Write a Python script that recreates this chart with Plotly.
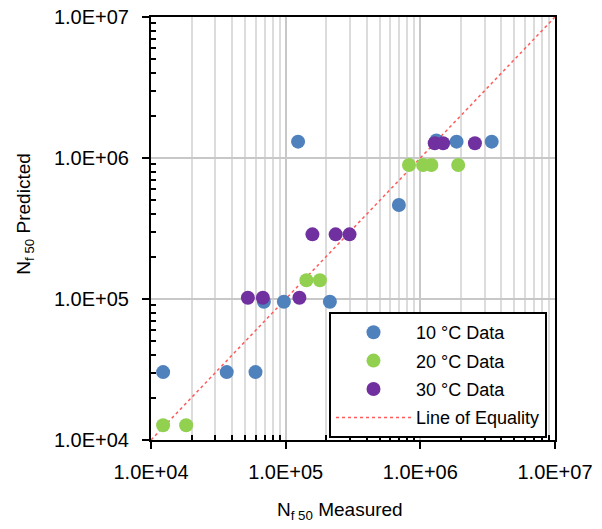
import plotly.graph_objects as go

# ---- data ----
x10 = [12300, 36500, 59700, 68900, 97000, 213000, 123600, 693000, 1315000, 1858000, 3388000]
y10 = [30300, 30300, 30300, 95700, 95700, 95700, 1306000, 464000, 1330000, 1306000, 1306000]

x20 = [12300, 18240, 142600, 179600, 824000, 1048000, 1208000, 1910000]
y20 = [12710, 12710, 135900, 135900, 891000, 891000, 891000, 891000]

x30 = [52400, 67700, 126500, 158000, 235000, 298000, 1279000, 1476000, 2543000]
y30 = [102000, 102000, 102000, 287500, 287500, 287500, 1271000, 1271000, 1271000]

eq_x = [1e4, 1e7]
eq_y = [1e4, 1e7]

tick_vals = [1e4, 1e5, 1e6, 1e7]
tick_text = ["1.0E+04", "1.0E+05", "1.0E+06", "1.0E+07"]
minor_vals = [m * 10 ** e for e in range(4, 7) for m in range(2, 10)]

x_title = "N<sub>f 50</sub> Measured"
y_title = "N<sub>f 50</sub> Predicted"

FONT = "Liberation Sans, Arial, sans-serif"

fig = go.Figure()
fig.add_trace(go.Scatter(x=eq_x, y=eq_y, mode="lines", name="Line of Equality",
                         line=dict(color="#ff5a5a", width=1.5, dash="dot"),
                         legendrank=4, legendgroup="d"))
fig.add_trace(go.Scatter(x=x10, y=y10, mode="markers", name="10 °C Data",
                         marker=dict(color="#4f81bd", size=14), legendrank=1, legendgroup="a"))
fig.add_trace(go.Scatter(x=x20, y=y20, mode="markers", name="20 °C Data",
                         marker=dict(color="#92d050", size=14), legendrank=2, legendgroup="b"))
fig.add_trace(go.Scatter(x=x30, y=y30, mode="markers", name="30 °C Data",
                         marker=dict(color="#7030a0", size=14), legendrank=3, legendgroup="c"))

axis_common = dict(
    type="log", tickmode="array", tickvals=tick_vals, ticktext=tick_text,
    showline=True, linecolor="black", linewidth=2, mirror=True,
    ticks="outside", ticklen=7, tickwidth=1.5, tickcolor="black",
    showgrid=True, gridcolor="#c8c8c8", gridwidth=2, automargin=False,
    zeroline=False, tickfont=dict(family=FONT, size=20, color="black"),
)

fig.update_xaxes(**axis_common, range=[4, 7],
                 minor=dict(tickmode="array", tickvals=minor_vals, ticks="inside", ticklen=5,
                            tickwidth=1.5, tickcolor="black", showgrid=True,
                            gridcolor="#dcdcdc", gridwidth=1.5),
                 ticklabelstandoff=6)
fig.update_yaxes(**axis_common, range=[4, 7],
                 minor=dict(tickmode="array", tickvals=minor_vals, ticks="inside", ticklen=5,
                            tickwidth=1.5, tickcolor="black", showgrid=False),
                 ticklabelstandoff=9)

fig.add_annotation(text=x_title, xref="paper", yref="paper", x=0.468, y=-0.168,
                   xanchor="center", yanchor="middle", showarrow=False,
                   font=dict(family=FONT, size=19, color="black"))
fig.add_annotation(text=y_title, xref="paper", yref="paper", x=-0.312, y=0.535,
                   xanchor="center", yanchor="middle", showarrow=False, textangle=-90,
                   font=dict(family=FONT, size=19, color="black"))

fig.update_layout(
    width=602, height=529,
    margin=dict(l=151, r=47, t=17, b=89, autoexpand=False),
    paper_bgcolor="white", plot_bgcolor="white",
    font=dict(family=FONT, color="black"),
    legend=dict(x=0.4406, y=0.3026, xanchor="left", yanchor="top",
                bgcolor="white", bordercolor="black", borderwidth=2,
                font=dict(family=FONT, size=18, color="black"),
                itemwidth=75, tracegroupgap=2, traceorder="grouped"),
    showlegend=True,
)

fig.write_html("out.html")
